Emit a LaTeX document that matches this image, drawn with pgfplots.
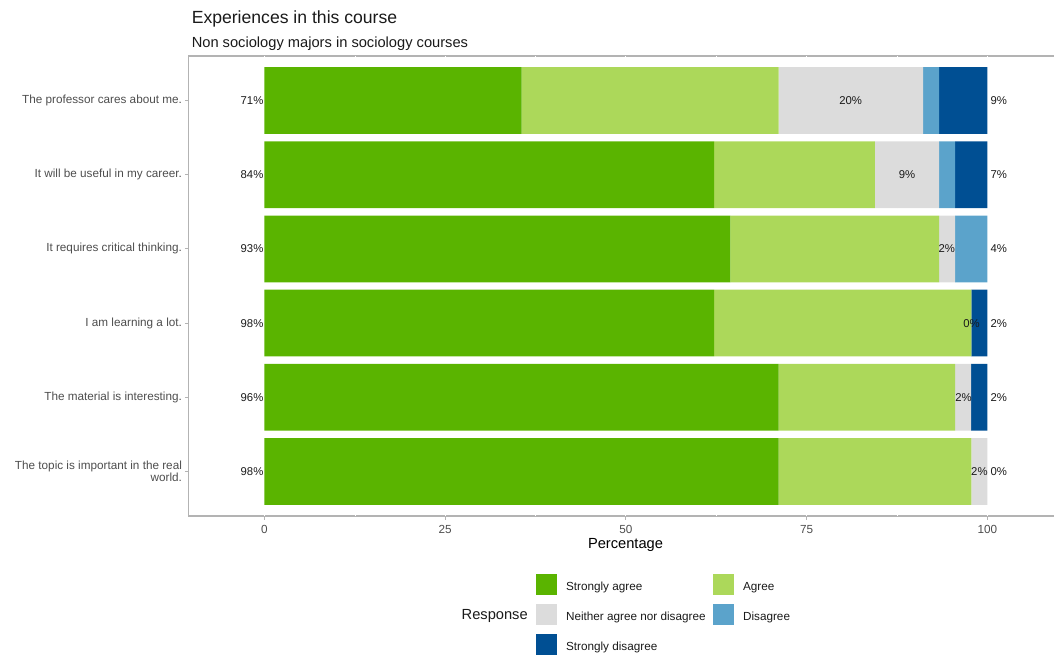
\documentclass[border=0pt]{standalone}
\usepackage{pgfplots}
\pgfplotsset{compat=1.18}
\usepackage{pgfplotstable}
\usepackage{fontspec}
\setmainfont{Liberation Sans}
\definecolor{cSA}{HTML}{5AB400}
\definecolor{cA}{HTML}{ACD85A}
\definecolor{cN}{HTML}{DCDCDC}
\definecolor{cD}{HTML}{5BA3CB}
\definecolor{cSD}{HTML}{004F93}
\definecolor{grey70}{HTML}{B3B3B3}
\definecolor{grey30}{HTML}{4D4D4D}
\definecolor{txt}{HTML}{1A1A1A}

\pgfplotstableread{
y SA A N D SD
6 35.56 35.56 20.00 2.22 6.67
5 62.22 22.22 8.89 2.22 4.44
4 64.44 28.89 2.22 4.44 0
3 62.22 35.56 0 0 2.22
2 71.11 24.44 2.22 0 2.22
1 71.11 26.67 2.22 0 0
}\bars

\newcommand{\sq}[1]{\fill[#1] (0pt,-6pt) rectangle (15.75pt,9.75pt);}

\begin{document}
\begin{tikzpicture}
\useasboundingbox (-141.4pt,-103.5pt) rectangle (649.1pt,387pt);
\begin{axis}[
  scale only axis, width=655.5pt, height=345pt,
  xmin=-10.5, xmax=110.4, ymin=0.4, ymax=6.6,
  xbar stacked, bar width=0.9,
  axis background/.style={draw=grey70, line width=0.8pt},
  axis line style={draw=none},
  xmajorgrids, xminorgrids,
  xtick={0,25,50,75,100},
  xticklabels={0,25,50,75,100},
  minor xtick={12.5,37.5,62.5,87.5},
  major grid style={white, line width=0.8pt},
  minor grid style={white, line width=0.4pt},
  ytick={1,2,3,4,5,6},
  yticklabels={{The topic is important in the real\\world.},{The material is interesting.},{I am learning a lot.},{It requires critical thinking.},{It will be useful in my career.},{The professor cares about me.}},
  tick align=outside, major tick length=2.75pt, minor tick length=0pt,
  tick style={grey70, line width=0.8pt},
  xtick pos=bottom, ytick pos=left,
  xticklabel style={font=\fontsize{8.8}{10}\selectfont, text=grey30, inner sep=0pt, anchor=north},
  yticklabel style={font=\fontsize{8.8}{9.4}\selectfont, text=grey30, inner sep=0pt, align=right, anchor=east},
  xticklabel shift=4pt, yticklabel shift=2.0pt,
  xlabel={Percentage},
  xlabel style={font=\fontsize{11}{13}\selectfont, at={(axis description cs:0.5,0)}, anchor=base, yshift=-24pt},
  legend columns=2,
  legend cell align=left,
  legend style={at={(0.3976,-0.1261)}, anchor=north west, draw=none, fill=none,
    inner sep=0pt, outer sep=0pt, row sep=6.75pt,
    nodes={inner sep=0pt, text=txt},
    font=\fontsize{8.8}{10}\selectfont,
    /tikz/every odd column/.append style={column sep=6.75pt},
    /tikz/every even column/.append style={column sep=5.6pt}},
]
\addplot[fill=cSA, draw=none, legend image code/.code={\sq{cSA}}] table[x=SA, y=y] {\bars};
\addlegendentry{Strongly agree}
\addplot[fill=cA, draw=none, legend image code/.code={\sq{cA}}] table[x=A, y=y] {\bars};
\addlegendentry{Agree}
\addplot[fill=cN, draw=none, legend image code/.code={\sq{cN}}] table[x=N, y=y] {\bars};
\addlegendentry{Neither agree nor disagree}
\addplot[fill=cD, draw=none, legend image code/.code={\sq{cD}}] table[x=D, y=y] {\bars};
\addlegendentry{Disagree}
\addplot[fill=cSD, draw=none, legend image code/.code={\sq{cSD}}] table[x=SD, y=y] {\bars};
\addlegendentry{Strongly disagree}
\end{axis}
\begin{axis}[
  scale only axis, width=655.5pt, height=345pt,
  xmin=-10.5, xmax=110.4, ymin=0.4, ymax=6.6,
  hide axis, clip=false,
  nodes near coords style={font=\fontsize{8.5}{10}\selectfont, text=txt, inner sep=0.6pt},
]
\addplot[only marks, mark=none, nodes near coords, point meta=explicit symbolic,
  nodes near coords style={anchor=east}] coordinates {
  (0,6) [71\%] (0,5) [84\%] (0,4) [93\%] (0,3) [98\%] (0,2) [96\%] (0,1) [98\%]};
\addplot[only marks, mark=none, nodes near coords, point meta=explicit symbolic,
  nodes near coords style={anchor=center}] coordinates {
  (81.1,6) [20\%] (88.9,5) [9\%] (94.4,4) [2\%] (97.8,3) [0\%] (96.7,2) [2\%] (98.9,1) [2\%]};
\addplot[only marks, mark=none, nodes near coords, point meta=explicit symbolic,
  nodes near coords style={anchor=west, xshift=1.6pt}] coordinates {
  (100,6) [9\%] (100,5) [7\%] (100,4) [4\%] (100,3) [2\%] (100,2) [2\%] (100,1) [0\%]};
\end{axis}
\node[anchor=base west, font=\fontsize{13.2}{15}\selectfont, text=txt] at (-1.1pt,369pt) {Experiences in this course};
\node[anchor=base west, font=\fontsize{11}{13}\selectfont, text=txt] at (-1.1pt,351.2pt) {Non sociology majors in sociology courses};
\node[anchor=base east, font=\fontsize{11}{13}\selectfont, text=txt, inner sep=0pt] at (254.6pt,-77.5pt) {Response};
\end{tikzpicture}
\end{document}
